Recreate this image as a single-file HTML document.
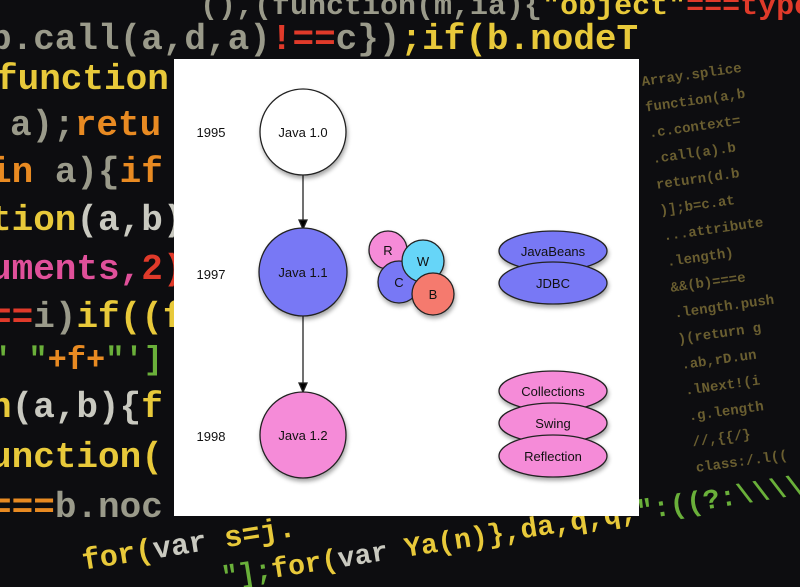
<!DOCTYPE html>
<html><head><meta charset="utf-8"><style>
html,body{margin:0;width:800px;height:587px;overflow:hidden}
body{background:#0d0d10;position:relative;font-family:"Liberation Mono",monospace}
#bg{position:absolute;left:0;top:0;width:800px;height:587px;overflow:hidden}
.l{position:absolute;white-space:nowrap;font-weight:bold;line-height:1}
.y{color:#e8c93a}.o{color:#e88a22}.g{color:#9a9a8a}.p{color:#e0509a}.r{color:#e03a2a}.gr{color:#6ab03a}.w{color:#c9c9c0}
</style></head><body>
<div id="bg">
<div class="l" style="left:-10px;top:22px;font-size:36px"><span class="g">b.call(a,d,a)</span><span class="r">!==</span><span class="g">c})</span><span class="y">;if(b.nodeT</span></div>
<div class="l" style="left:200px;top:-8px;font-size:30px"><span class="g">(),(function(m,ia){</span><span class="y">"object"</span><span class="r">===typeof</span></div>
<div class="l" style="left:-4px;top:62px;font-size:36px"><span class="y">function(</span></div>
<div class="l" style="left:10px;top:108px;font-size:36px"><span class="g">a);</span><span class="o">retu</span></div>
<div class="l" style="left:-10px;top:155px;font-size:36px"><span class="o">in </span><span class="g">a){</span><span class="o">if</span></div>
<div class="l" style="left:-10px;top:203px;font-size:36px"><span class="y">tion</span><span class="w">(a,b)</span></div>
<div class="l" style="left:-10px;top:252px;font-size:36px"><span class="p">uments,</span><span class="r">2)</span></div>
<div class="l" style="left:-10px;top:300px;font-size:36px"><span class="r">==</span><span class="g">i)</span><span class="y">if((f</span></div>
<div class="l" style="left:-10px;top:345px;font-size:32px"><span class="gr">" "</span><span class="o">+f+</span><span class="gr">"']</span></div>
<div class="l" style="left:-10px;top:390px;font-size:36px"><span class="y">n</span><span class="w">(a,b){</span><span class="y">f</span></div>
<div class="l" style="left:-10px;top:440px;font-size:36px"><span class="y">unction(</span></div>
<div class="l" style="left:-10px;top:490px;font-size:36px"><span class="o">===</span><span class="g">b.noc</span></div>
<div class="l" style="left:80px;top:548px;font-size:30px;transform:rotate(-9deg);transform-origin:0 0"><span class="y">for(</span><span class="w">var </span><span class="y">s=j.</span></div>
<div class="l" style="left:220px;top:566px;font-size:28px;transform:rotate(-9deg);transform-origin:0 0"><span class="gr">"];</span><span class="y">for(</span><span class="w">var </span><span class="y">Ya(n)},da,q,q,</span><span class="gr">":((?:\\\\.</span><span class="y">/CLASS:</span></div>
<div class="l" style="left:640px;top:70px;font-size:14px;line-height:26px;color:#6a5e30;transform:rotate(-8deg);transform-origin:0 0">
Array.splice<br>function(a,b<br>.c.context=<br>.call(a).b<br>return(d.b<br>)];b=c.at<br>...attribute<br>.length)<br>&&(b)===e<br>.length.push<br>)(return g<br>.ab,rD.un<br>.lNext!(i<br>.g.length<br>//,{{/}<br>class:/.l((<br>
</div>
</div>
<div style="position:absolute;left:174px;top:59px;width:465px;height:457px;background:#fff"></div>
<svg style="position:absolute;left:0;top:0" width="800" height="587" font-family="Liberation Sans, sans-serif" font-size="13">
<defs><filter id="s" x="-20%" y="-20%" width="150%" height="150%"><feDropShadow dx="1" dy="3" stdDeviation="2" flood-opacity="0.35"/></filter></defs>
<g stroke="#222" stroke-width="1.3">
<line x1="303" y1="175" x2="303" y2="228"/><path d="M299,220 L307,220 L303,229z" fill="#000"/>
<line x1="303" y1="316" x2="303" y2="391"/><path d="M299,383 L307,383 L303,392z" fill="#000"/>
<g filter="url(#s)">
<circle cx="303" cy="132" r="43" fill="#fff"/>
<circle cx="303" cy="272" r="44" fill="#7878f5"/>
<ellipse cx="303" cy="435" rx="43" ry="43" fill="#f58bd8"/>
<circle cx="388" cy="250" r="19" fill="#f58bd8"/>
<circle cx="399" cy="282" r="21" fill="#7878f5"/>
<circle cx="423" cy="261" r="21" fill="#66d5f8"/>
<circle cx="433" cy="294" r="21" fill="#f57a6e"/>
<ellipse cx="553" cy="251" rx="54" ry="20" fill="#7878f5"/>
<ellipse cx="553" cy="283" rx="54" ry="21" fill="#7878f5"/>
<ellipse cx="553" cy="391" rx="54" ry="20" fill="#f58bd8"/>
<ellipse cx="553" cy="423" rx="54" ry="20" fill="#f58bd8"/>
<ellipse cx="553" cy="456" rx="54" ry="21" fill="#f58bd8"/>
</g></g>
<g fill="#111" text-anchor="middle">
<text x="211" y="137">1995</text><text x="211" y="279">1997</text><text x="211" y="441">1998</text>
<text x="303" y="137">Java 1.0</text><text x="303" y="277">Java 1.1</text><text x="303" y="440">Java 1.2</text>
<text x="388" y="255">R</text><text x="399" y="287">C</text><text x="423" y="266">W</text><text x="433" y="299">B</text>
<text x="553" y="256">JavaBeans</text><text x="553" y="288">JDBC</text>
<text x="553" y="396">Collections</text><text x="553" y="428">Swing</text><text x="553" y="461">Reflection</text>
</g></svg>
</body></html>
